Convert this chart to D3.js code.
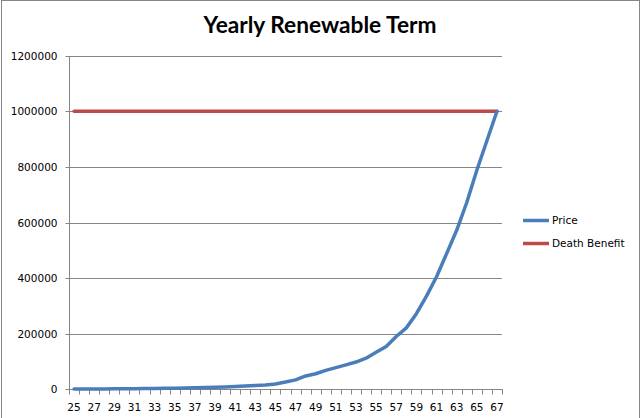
<!DOCTYPE html>
<html><head><meta charset="utf-8">
<script src="https://cdnjs.cloudflare.com/ajax/libs/d3/7.8.5/d3.min.js"></script>
<style>html,body{margin:0;padding:0;background:#fff;}svg{display:block;}</style>
</head><body>
<script>
const ages = ["25","26","27","28","29","30","31","32","33","34","35","36","37","38","39","40","41","42","43","44","45","46","47","48","49","50","51","52","53","54","55","56","57","58","59","60","61","62","63","64","65","66","67"];
const price = [1000,1100,1200,1400,1600,1800,2100,2500,3000,3600,4200,4800,5600,6400,7400,8600,10000,12000,13800,15500,19000,26000,34000,48000,56000,68000,78000,88000,98000,112000,133000,154000,190000,221000,272000,335000,405000,488000,572000,672000,788000,894000,1000000];
const deathBenefit = [1000000,1000000,1000000,1000000,1000000,1000000,1000000,1000000,1000000,1000000,1000000,1000000,1000000,1000000,1000000,1000000,1000000,1000000,1000000,1000000,1000000,1000000,1000000,1000000,1000000,1000000,1000000,1000000,1000000,1000000,1000000,1000000,1000000,1000000,1000000,1000000,1000000,1000000,1000000,1000000,1000000,1000000,1000000];
const yTicks = [0,200000,400000,600000,800000,1000000,1200000];
const seriesNames = ["Price","Death Benefit"];
const colors = ["#4A7EBB","#BE4B48"];
const title = "Yearly Renewable Term";

const W = 641, H = 418;
const m = {left:69, right:502, top:55.7, bottom:389.3};
const font = "DejaVu Sans";
const grey = "#868686";

const svg = d3.select("body").append("svg").attr("width",W).attr("height",H);
svg.append("rect").attr("x",1.5).attr("y",0.5).attr("width",638).attr("height",440)
  .attr("fill","#fff").attr("stroke",grey).attr("stroke-width",1);

const x = d3.scaleBand().domain(ages).range([m.left, m.right]).padding(0);
const y = d3.scaleLinear().domain([0,1200000]).range([m.bottom, m.top]);

// gridlines
svg.append("g").selectAll("line").data(yTicks.slice(1)).join("line")
  .attr("x1",m.left).attr("x2",m.right)
  .attr("y1",d=>Math.round(y(d))+0.5).attr("y2",d=>Math.round(y(d))+0.5)
  .attr("stroke",grey).attr("stroke-width",1);

// y axis
const yAxis = d3.axisLeft(y).tickValues(yTicks).tickSize(4).tickPadding(8).tickFormat(d3.format("d"));
const gy = svg.append("g").attr("transform",`translate(${m.left+0.5},0.5)`).call(yAxis);
gy.select(".domain").attr("stroke",grey).attr("d",`M0,${Math.round(m.top)}V${Math.round(m.bottom)}`);
gy.selectAll(".tick line").attr("stroke",grey);
gy.selectAll(".tick").attr("transform",d=>`translate(0,${Math.round(y(d))})`);
gy.selectAll("text").attr("font-family",font).attr("font-size","10.5px").attr("fill","#000").attr("dy","0.35em");

// x axis
const bounds = d3.range(ages.length+1).map(i=>m.left + i*x.bandwidth());
const gx = svg.append("g");
gx.append("line").attr("x1",m.left).attr("x2",m.right)
  .attr("y1",Math.round(m.bottom)+0.5).attr("y2",Math.round(m.bottom)+0.5)
  .attr("stroke",grey);
gx.selectAll("line.t").data(bounds).join("line").attr("class","t")
  .attr("x1",d=>Math.round(d)+0.5).attr("x2",d=>Math.round(d)+0.5)
  .attr("y1",Math.round(m.bottom)).attr("y2",Math.round(m.bottom)+5.5)
  .attr("stroke",grey);
gx.selectAll("text").data(ages.filter((a,i)=>i%2===0)).join("text")
  .attr("x",d=>x(d)+x.bandwidth()/2).attr("y",411)
  .attr("text-anchor","middle").attr("font-family",font).attr("font-size","10.5px")
  .attr("fill","#000").text(d=>d);

// lines
const line = d3.line().x((d,i)=>x(ages[i])+x.bandwidth()/2).y(d=>y(d));
[deathBenefit, price].forEach((s,k)=>{
  const ci = k===0 ? 1 : 0;
  svg.append("path").datum(s).attr("d",line).attr("fill","none")
    .attr("stroke",colors[ci]).attr("stroke-width",3.5)
    .attr("stroke-linejoin","round").attr("stroke-linecap","round");
});

// legend
const lg = svg.append("g");
seriesNames.forEach((n,i)=>{
  const yy = 220.5 + i*23;
  lg.append("line").attr("x1",523).attr("x2",549).attr("y1",yy).attr("y2",yy)
    .attr("stroke",colors[i]).attr("stroke-width",3.5);
  lg.append("text").attr("x",552).attr("y",yy).attr("dy","0.35em")
    .attr("font-family",font).attr("font-size","10.5px").attr("fill","#000").text(n);
});

// title
svg.append("text").attr("x",320).attr("y",33).attr("text-anchor","middle")
  .attr("font-family","Lato").attr("font-weight","bold").attr("font-size","22px")
  .attr("fill","#000").attr("textLength",233).attr("lengthAdjust","spacingAndGlyphs").text(title);
</script>
</body></html>
